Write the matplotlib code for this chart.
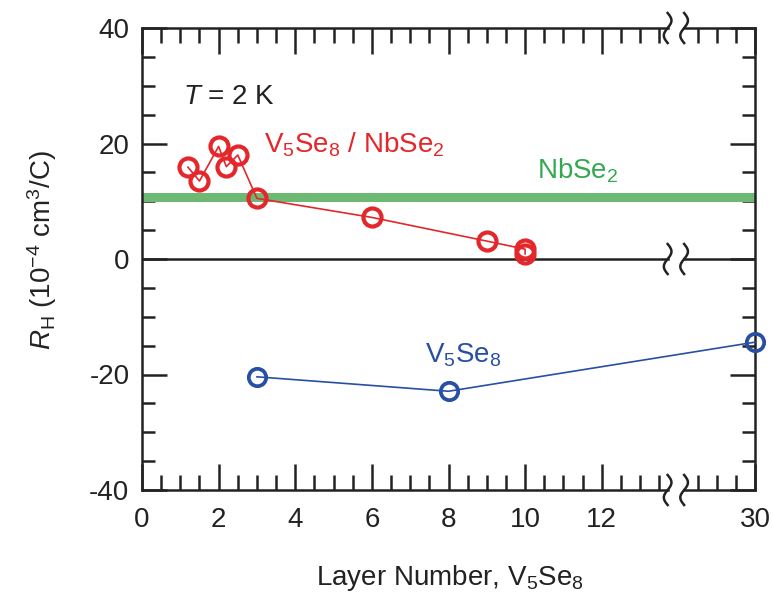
import numpy as np
import matplotlib
matplotlib.use("Agg")
import matplotlib.pyplot as plt

plt.rcParams['font.family'] = ['Liberation Sans', 'DejaVu Sans']
plt.rcParams['mathtext.fontset'] = 'custom'
plt.rcParams['mathtext.rm'] = 'Liberation Sans'
plt.rcParams['mathtext.it'] = 'Liberation Sans:italic'
plt.rcParams['mathtext.default'] = 'rm'
plt.rcParams['axes.unicode_minus'] = False

# ---- data ----
hetero_layers = [1.2, 1.5, 2.0, 2.2, 2.5, 3.0, 6.0, 9.0, 10.0, 10.0]
hetero_rh = [15.9, 13.5, 19.5, 16.0, 18.0, 10.5, 7.2, 3.1, 1.7, 0.9]
v5se8_layers = [3, 8, 30]
v5se8_rh = [-20.4, -22.9, -14.4]
nbse2_rh = 10.7
xtick_vals = [0, 2, 4, 6, 8, 10, 12, 30]
xtick_labels = ['0', '2', '4', '6', '8', '10', '12', '30']
ytick_vals = [-40, -20, 0, 20, 40]

BREAK = 14.0
COMP = 8.0  # data units per axis unit beyond the break


def fwd(x):
    x = np.asarray(x, dtype=float)
    return np.where(x <= BREAK, x, BREAK + (x - BREAK) / COMP)


def inv(p):
    p = np.asarray(p, dtype=float)
    return np.where(p <= BREAK, p, BREAK + (p - BREAK) * COMP)


red = '#e3272b'
blue = '#2750a2'
green_line = '#6db872'
green_text = '#35a852'
ink = '#222222'
FS = 20

fig = plt.figure(figsize=(7.73, 5.97), dpi=100)
ax = fig.add_axes([142 / 773, 107 / 597, 613 / 773, 462 / 597])
ax.set_xscale('function', functions=(fwd, inv))
ax.set_xlim(0, 30)
ax.set_ylim(-40, 40)

# break positions in axis units
b1, b2 = 13.72, 14.15
b1_data, b2_data = float(inv(b1)), float(inv(b2))
pos_max = float(fwd(30))

# NbSe2 reference
ax.axhline(nbse2_rh, color=green_line, lw=6.5, zorder=2)
# zero line with break
ax.plot([0, b1_data], [0, 0], color=ink, lw=1.8, zorder=2)
ax.plot([b2_data, 30], [0, 0], color=ink, lw=1.8, zorder=2)

ax.plot(hetero_layers, hetero_rh, color=red, lw=1.2, marker='o', ms=13,
        mfc='none', mec=red, mew=3.0, zorder=4)
ax.plot(v5se8_layers, v5se8_rh, color=blue, lw=1.2, marker='o', ms=12.5,
        mfc='none', mec=blue, mew=2.7, zorder=4, clip_on=False)

# ticks
ax.set_xticks(xtick_vals)
ax.set_xticklabels(xtick_labels)
minor_x = [v for v in np.arange(0.5, 14.0, 0.5) if v % 2 != 0] + [18, 22, 26]
ax.set_xticks(minor_x, minor=True)
ax.set_yticks(ytick_vals)
ax.set_yticks(np.arange(-35, 40, 5), minor=True)
ax.tick_params(which='both', direction='in', top=True, right=True,
               width=1.8, color=ink, labelsize=FS, labelcolor=ink)
ax.tick_params(axis='x', which='major', length=19, pad=12)
ax.tick_params(axis='x', which='minor', length=10.5)
ax.tick_params(axis='y', which='major', length=18, pad=9)
ax.tick_params(axis='y', which='minor', length=9.5)

# spines with break
for s in ['left', 'right']:
    ax.spines[s].set_linewidth(1.8)
    ax.spines[s].set_color(ink)
ax.spines['top'].set_visible(False)
ax.spines['bottom'].set_visible(False)
f1, f2 = b1 / pos_max, b2 / pos_max
for yy in [0, 1]:
    ax.plot([0, f1], [yy, yy], transform=ax.transAxes, color=ink,
            lw=1.8, clip_on=False, solid_capstyle='projecting', zorder=5)
    ax.plot([f2, 1], [yy, yy], transform=ax.transAxes, color=ink,
            lw=1.8, clip_on=False, solid_capstyle='projecting', zorder=5)

# wavy break marks
t = np.linspace(0, 1, 60)
hh = 15 / 462
aa = 3.8 / 613
for yc in [0, 1, 0.5]:
    for fc in [f1, f2]:
        ax.plot(fc + aa * np.sin(2 * np.pi * t), yc + hh - 2 * hh * t,
                transform=ax.transAxes, color=ink, lw=1.8,
                clip_on=False, zorder=6)

# annotations
ax.text(1.07, 26.8, r'$\mathit{T}$ = 2 K', fontsize=FS, color=ink,
        va='baseline', ha='left')
ax.text(3.19, 18.5, r'V$_5$Se$_8$ / NbSe$_2$', fontsize=FS, color=red,
        va='baseline', ha='left')
ax.text(10.31, 14.0, r'NbSe$_2$', fontsize=FS, color=green_text,
        va='baseline', ha='left')
ax.text(7.39, -18.0, r'V$_5$Se$_8$', fontsize=FS, color=blue,
        va='baseline', ha='left')

fig.text(450 / 773, 1 - 578 / 597, r'Layer Number, V$_5$Se$_8$', fontsize=FS,
         color=ink, ha='center', va='center')
fig.text(42 / 773, 1 - 250 / 597, r'$\mathit{R}_\mathrm{H}$ (10$^{-4}$ cm$^{3}$/C)',
         fontsize=FS, color=ink, ha='center', va='center', rotation=90)

fig.savefig('out.png', dpi=100)
